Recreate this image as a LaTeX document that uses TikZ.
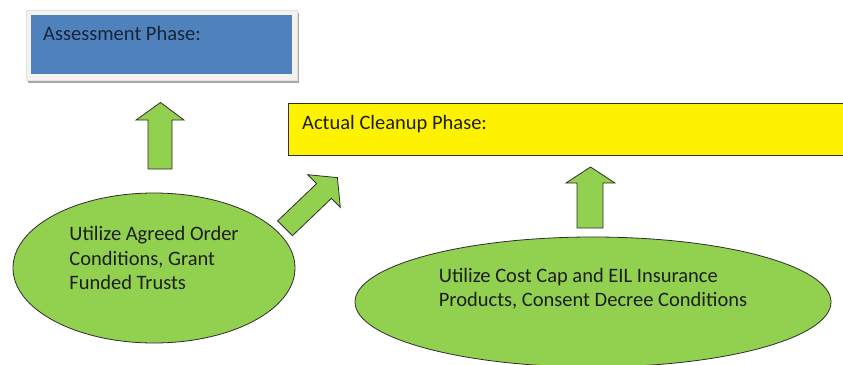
\documentclass[tikz,border=0pt]{standalone}
\usepackage{fontspec}
\setmainfont{Carlito}
\usetikzlibrary{shapes.geometric}
\definecolor{boxblue}{HTML}{4F81BD}
\definecolor{frame}{HTML}{F4F2EE}
\definecolor{shadowgray}{HTML}{A8A8A8}
\definecolor{leaf}{HTML}{92D050}
\definecolor{edge}{HTML}{2E2E2E}
\definecolor{ink}{HTML}{1E1E1E}
\definecolor{navy}{HTML}{1A2438}
\begin{document}
\begin{tikzpicture}[x=1pt,y=-1pt,
  txt/.style={inner sep=0pt, text=ink, font=\fontsize{20.5}{24.5}\selectfont, align=left},
  blockarrow/.style={fill=leaf, draw=edge, line width=0.8pt, line join=miter},
  bubble/.style={ellipse, fill=leaf, draw=edge, line width=0.8pt, inner sep=0pt}]
\useasboundingbox (0,0) rectangle (843,364);
\clip (0,0) rectangle (843,364);
% Assessment box
\fill[shadowgray] (28,13) rectangle (299,83);
\fill[frame] (26,10) rectangle (297,80);
\draw[frame!85!gray, line width=0.4pt] (26,10) rectangle (297,80);
\node[fill=boxblue, minimum width=261pt, minimum height=59pt, inner sep=0pt, anchor=north west] (assess) at (30.7,15) {};
\node[txt, text=navy, anchor=west] (assesst) at (43,33) {Assessment Phase:};
% Cleanup box
\node[fill=yellow, draw=edge, line width=1.2pt, minimum width=570pt, minimum height=52pt, inner sep=0pt, anchor=north west] (clean) at (288,103) {};
\node[txt, anchor=west] (cleant) at (302,124) {Actual Cleanup Phase:};
% Left ellipse
\node[bubble, minimum width=282pt, minimum height=150pt] (e1) at (154,268) {};
\node[txt] (e1t) at (154,258) {Utilize Agreed Order\\Conditions, Grant\\Funded Trusts};
% Right ellipse
\node[bubble, minimum width=476pt, minimum height=130pt] (e2) at (593,302) {};
\node[txt] (e2t) at (593,288.5) {Utilize Cost Cap and EIL Insurance\\Products, Consent Decree Conditions};
% Up arrow to assessment
\draw[blockarrow] (148,169) -- (148,120) -- (136,120) -- (160.5,102.5) -- (184,120) -- (172,120) -- (172,169) -- cycle;
% Up arrow to cleanup (right)
\draw[blockarrow] (577,228) -- (577,183) -- (566,183) -- (590.5,167) -- (615,183) -- (603,183) -- (603,228) -- cycle;
% Diagonal arrow to cleanup
\draw[blockarrow] (277.6,220.9) -- (316.6,183.6) -- (307.7,174.7) -- (337.4,177.6) -- (340.3,207.3) -- (331.4,198.4) -- (292.4,235.7) -- cycle;
\end{tikzpicture}
\end{document}
